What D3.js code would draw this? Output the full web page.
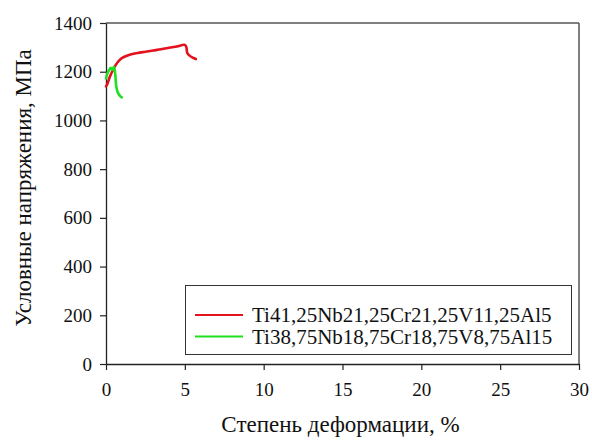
<!DOCTYPE html>
<html>
<head>
<meta charset="utf-8">
<script src="https://cdn.jsdelivr.net/npm/d3@7"></script>
<style>
  html, body { margin: 0; padding: 0; background: #fff; }
  svg { display: block; }
  svg text { font-family: "Times New Roman", "Liberation Serif", Tinos, serif !important; }
</style>
</head>
<body>
<svg id="chart" width="592" height="446"></svg>
<script>
// Stress–strain curves of the two alloys
const seriesNames = ["Ti41,25Nb21,25Cr21,25V11,25Al5", "Ti38,75Nb18,75Cr18,75V8,75Al15"];
const seriesColors = ["#e3121c", "#1fe01f"];

const strainA = [0.0, 0.1, 0.25, 0.5, 0.75, 1.0, 1.5, 2.0, 2.5, 3.0, 3.5, 4.0, 4.5, 5.0, 5.1, 5.15, 5.3, 5.5, 5.7];
const stressA = [1140, 1152, 1180, 1215, 1240, 1256, 1270, 1277, 1282, 1287, 1292, 1298, 1304, 1310, 1300, 1278, 1266, 1258, 1252];

const strainB = [0.0, 0.1, 0.2, 0.3, 0.4, 0.5, 0.55, 0.6, 0.65, 0.75, 0.9, 1.0];
const stressB = [1172, 1195, 1207, 1216, 1208, 1220, 1208, 1180, 1140, 1114, 1100, 1095];

const xTicks = [0, 5, 10, 15, 20, 25, 30];
const yTicks = [0, 200, 400, 600, 800, 1000, 1200, 1400];

const xTitle = "Степень деформации, %";
const yTitle = "Условные напряжения, МПа";

const FONT = "Times New Roman";

function serif(sel, size) {
  return sel.attr("font-family", FONT).attr("font-size", size).style("font-size", size + "px");
}

const svg = d3.select("#chart");
const m = { left: 106, right: 579, top: 23, bottom: 364 };

const x = d3.scaleLinear().domain([0, 30]).range([m.left, m.right]);
const y = d3.scaleLinear().domain([0, 1400]).range([m.bottom, m.top]);

// frame on top and right
svg.append("line").attr("x1", m.left).attr("x2", m.right).attr("y1", m.top).attr("y2", m.top)
  .attr("stroke", "#555").attr("stroke-width", 1.5);
svg.append("line").attr("x1", m.right).attr("x2", m.right).attr("y1", m.top).attr("y2", m.bottom)
  .attr("stroke", "#555").attr("stroke-width", 1.5);

const xAxis = svg.append("g").attr("transform", `translate(0,${m.bottom})`)
  .call(d3.axisBottom(x).tickValues(xTicks).tickFormat(d3.format("d"))
    .tickSize(6).tickPadding(8).tickSizeOuter(0));
const yAxis = svg.append("g").attr("transform", `translate(${m.left},0)`)
  .call(d3.axisLeft(y).tickValues(yTicks).tickFormat(d3.format("d"))
    .tickSize(6).tickPadding(8).tickSizeOuter(0));

[xAxis, yAxis].forEach(g => {
  g.attr("font-family", null).attr("font-size", null);
  g.select(".domain").attr("stroke", "#222").attr("stroke-width", 1.3);
  g.selectAll(".tick line").attr("stroke", "#222").attr("stroke-width", 1.2);
  serif(g.selectAll(".tick text").attr("fill", "#111"), 19);
});
xAxis.selectAll(".tick text").attr("dy", "0.95em");

serif(svg.append("text").attr("x", (m.left + m.right) / 2 - 2).attr("y", 432)
  .attr("text-anchor", "middle").attr("fill", "#111"), 23).text(xTitle);
serif(svg.append("text").attr("transform", `translate(31,${188}) rotate(-90)`)
  .attr("text-anchor", "middle").attr("fill", "#111"), 23).text(yTitle);

// curves
const line = d3.line().x(d => x(d[0])).y(d => y(d[1])).curve(d3.curveCatmullRom.alpha(0.5));
const curves = [
  d3.zip(strainA, stressA),
  d3.zip(strainB, stressB)
];
curves.forEach((pts, i) => {
  svg.append("path").datum(pts).attr("d", line)
    .attr("fill", "none").attr("stroke", seriesColors[i]).attr("stroke-width", 2.6)
    .attr("stroke-linejoin", "round").attr("stroke-linecap", "round");
});

// legend
const lg = svg.append("g");
lg.append("rect").attr("x", 185.5).attr("y", 285.5).attr("width", 386).attr("height", 69)
  .attr("fill", "#fff").attr("stroke", "#333").attr("stroke-width", 1);
seriesNames.forEach((name, i) => {
  const cy = 315 + i * 21.5;
  lg.append("line").attr("x1", 195).attr("x2", 243).attr("y1", cy).attr("y2", cy)
    .attr("stroke", seriesColors[i]).attr("stroke-width", 2);
  serif(lg.append("text").attr("x", 252).attr("y", cy).attr("dy", "0.35em").attr("fill", "#111"), 21)
    .text(name);
});
</script>
</body>
</html>
